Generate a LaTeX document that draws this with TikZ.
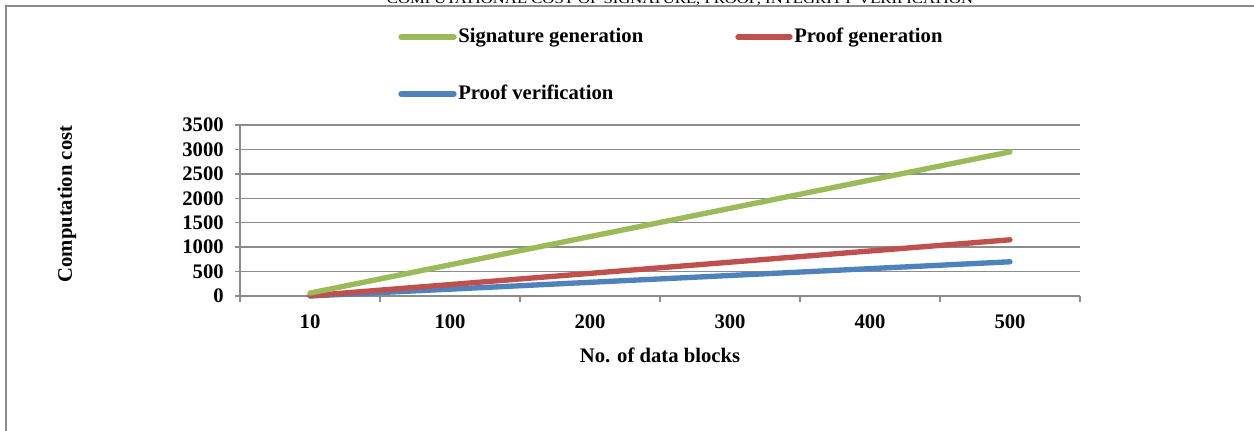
\documentclass[tikz,border=0pt]{standalone}
\usepackage{fontspec}
\setmainfont{Liberation Serif}
\definecolor{gridgray}{HTML}{8C8C8C}
\definecolor{sgreen}{HTML}{9BBB59}
\definecolor{sred}{HTML}{C0504D}
\definecolor{sblue}{HTML}{4F81BD}
\tikzset{
  lbl/.style={font=\fontsize{15.5}{18}\selectfont\bfseries, inner sep=0pt},
  gridline/.style={draw=gridgray, line width=1.1pt},
  series/.style={line width=4pt, line cap=round, line join=round},
}
\begin{document}
\begin{tikzpicture}[x=0.75pt,y=-0.75pt]
\useasboundingbox (0,0) rectangle (1254,431);
% frame
\draw[gridgray, line width=1.1pt] (6,431) -- (6,6) -- (1254,6);
% clipped title
\begin{scope}
\clip (0,0) rectangle (1254,5.2);
\node[font=\fontsize{10}{12}\selectfont, anchor=base, inner sep=0pt, xscale=1.25] (title) at (680,4) {COMPUTATIONAL COST OF SIGNATURE, PROOF, INTEGRITY VERIFICATION};
\end{scope}
% grid
\foreach \v in {500,1000,...,3500}{
  \draw[gridline] (235,{296-\v*0.048857}) -- (1080,{296-\v*0.048857});
}
% axes
\draw[gridline] (240,125) -- (240,296);
\draw[gridline] (235,296) -- (1080,296);
\foreach \i in {0,...,6}{
  \draw[gridline] ({240+140*\i},296) -- ({240+140*\i},302);
}
% y labels
\foreach \v in {0,500,...,3500}{
  \node[lbl, anchor=east] (y\v) at (224,{296-\v*0.048857}) {\v};
}
% x labels
\foreach \t [count=\i from 0] in {10,100,200,300,400,500}{
  \node[lbl] (x\t) at ({310+140*\i},322) {\t};
}
\node[lbl] (xtitle) at (660,355) {No. of data blocks};
\node[lbl, rotate=90] (ytitle) at (67,204) {Computation cost};
% series
\coordinate (b0) at (310,{296-0*0.048857});
\coordinate (b1) at (1010,{296-700*0.048857});
\coordinate (r0) at (310,{296-5*0.048857});
\coordinate (r1) at (1010,{296-1150*0.048857});
\coordinate (g0) at (310,{296-60*0.048857});
\coordinate (g1) at (1010,{296-2950*0.048857});
\draw[series, sblue] (b0) -- (b1);
\draw[series, sred] (r0) -- (r1);
\draw[series, sgreen] (g0) -- (g1);
% legend
\coordinate (lg0) at (401,37); \coordinate (lg1) at (454,37);
\coordinate (lr0) at (738,37); \coordinate (lr1) at (790,37);
\coordinate (lb0) at (401,94); \coordinate (lb1) at (454,94);
\draw[series, sgreen] (lg0) -- (lg1);
\draw[series, sred] (lr0) -- (lr1);
\draw[series, sblue] (lb0) -- (lb1);
\node[lbl, anchor=base west] (lgt) at (458,42.5) {Signature generation};
\node[lbl, anchor=base west] (lrt) at (794,42.5) {Proof generation};
\node[lbl, anchor=base west] (lbt) at (458,99.5) {Proof verification};
\end{tikzpicture}
\end{document}
